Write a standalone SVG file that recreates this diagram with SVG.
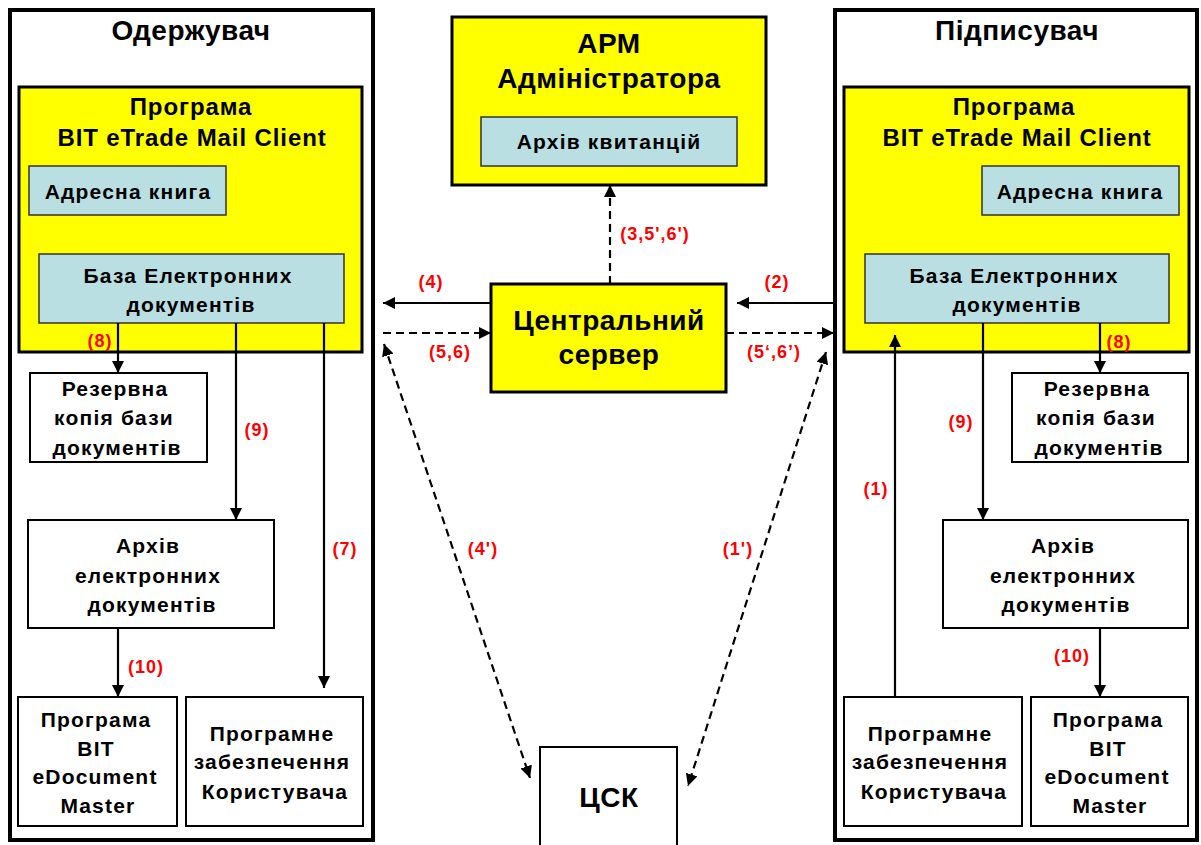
<svg xmlns="http://www.w3.org/2000/svg" width="1201" height="845" viewBox="0 0 1201 845">
<style>
.outer{fill:#fff;stroke:#000;stroke-width:4}
.yel{fill:#ffff00;stroke:#000;stroke-width:3}
.blue{fill:#b9dfe3;stroke:#333;stroke-width:1.5}
.wht{fill:#fff;stroke:#000;stroke-width:2}
text{font-family:"Liberation Sans",Arial,sans-serif;font-weight:bold;text-anchor:middle;fill:#000}
.t28{font-size:28px;letter-spacing:0.5px}
.t22{font-size:24px;letter-spacing:0.9px}
.t20{font-size:21px;letter-spacing:1.2px}
.lbl{font-size:18px;fill:#ff0000;letter-spacing:1px}
.ln{stroke:#000;stroke-width:2.2;fill:none}
.dl{stroke:#000;stroke-width:2.2;fill:none;stroke-dasharray:8,5}
</style>
<defs>
<marker id="ah" viewBox="0 0 10 10" refX="10" refY="5" markerWidth="12" markerHeight="12" markerUnits="userSpaceOnUse" orient="auto-start-reverse">
<path d="M0,0 L10,5 L0,10 z" fill="#000"/>
</marker>
</defs>
<rect width="1201" height="845" fill="#fff"/>

<g id="receiver">
<rect class="outer" x="10" y="10" width="363" height="830"/>
<text class="t28" x="191" y="40">Одержувач</text>
</g>
<g id="receiver-client">
<rect class="yel" x="19" y="87" width="343" height="265"/>
<text class="t22" x="191" y="115">Програма</text>
<text class="t22" x="192" y="146">BIT eTrade Mail Client</text>
</g>
<g id="receiver-address">
<rect class="blue" x="29" y="166" width="197" height="49"/>
<text class="t20" x="128" y="199">Адресна книга</text>
</g>
<g id="receiver-db">
<rect class="blue" x="39" y="254" width="305" height="69"/>
<text class="t20" x="188" y="283">База Електронних</text>
<text class="t20" x="191" y="312">документів</text>
</g>
<g id="receiver-backup">
<rect class="wht" x="30" y="373" width="177" height="89"/>
<text class="t20" x="115" y="396">Резервна</text>
<text class="t20" x="114" y="425">копія бази</text>
<text class="t20" x="117" y="455">документів</text>
</g>
<g id="receiver-archive">
<rect class="wht" x="28" y="520" width="246" height="108"/>
<text class="t20" x="148" y="553">Архів</text>
<text class="t20" x="148" y="583">електронних</text>
<text class="t20" x="152" y="612">документів</text>
</g>
<g id="receiver-edoc">
<rect class="wht" x="18" y="697" width="159" height="129"/>
<text class="t20" x="96" y="727">Програма</text>
<text class="t20" x="96" y="756">BIT</text>
<text class="t20" x="95" y="784">eDocument</text>
<text class="t20" x="98" y="813">Master</text>
</g>
<g id="receiver-user">
<rect class="wht" x="186" y="697" width="177" height="129"/>
<text class="t20" x="272" y="741">Програмне</text>
<text class="t20" x="272" y="769">забезпечення</text>
<text class="t20" x="275" y="799">Користувача</text>
</g>

<g id="signer">
<rect class="outer" x="835" y="10" width="362" height="830"/>
<text class="t28" x="1017" y="40">Підписувач</text>
</g>
<g id="signer-client">
<rect class="yel" x="844" y="87" width="345" height="265"/>
<text class="t22" x="1014" y="115">Програма</text>
<text class="t22" x="1017" y="146">BIT eTrade Mail Client</text>
</g>
<g id="signer-address">
<rect class="blue" x="982" y="166" width="197" height="49"/>
<text class="t20" x="1080" y="199">Адресна книга</text>
</g>
<g id="signer-db">
<rect class="blue" x="865" y="254" width="304" height="69"/>
<text class="t20" x="1014" y="283">База Електронних</text>
<text class="t20" x="1017" y="312">документів</text>
</g>
<g id="signer-backup">
<rect class="wht" x="1012" y="373" width="176" height="89"/>
<text class="t20" x="1097" y="396">Резервна</text>
<text class="t20" x="1096" y="425">копія бази</text>
<text class="t20" x="1099" y="455">документів</text>
</g>
<g id="signer-archive">
<rect class="wht" x="943" y="520" width="245" height="108"/>
<text class="t20" x="1063" y="553">Архів</text>
<text class="t20" x="1063" y="583">електронних</text>
<text class="t20" x="1066" y="612">документів</text>
</g>
<g id="signer-user">
<rect class="wht" x="844" y="697" width="178" height="129"/>
<text class="t20" x="930" y="741">Програмне</text>
<text class="t20" x="930" y="769">забезпечення</text>
<text class="t20" x="934" y="799">Користувача</text>
</g>
<g id="signer-edoc">
<rect class="wht" x="1031" y="697" width="157" height="129"/>
<text class="t20" x="1108" y="727">Програма</text>
<text class="t20" x="1108" y="756">BIT</text>
<text class="t20" x="1107" y="784">eDocument</text>
<text class="t20" x="1110" y="813">Master</text>
</g>

<g id="admin">
<rect class="yel" x="452" y="17" width="314" height="168"/>
<text class="t28" x="609" y="53">АРМ</text>
<text class="t28" x="609" y="88">Адміністратора</text>
</g>
<g id="receipts">
<rect class="blue" x="481" y="117" width="256" height="49"/>
<text class="t20" x="609" y="149">Архів квитанцій</text>
</g>
<g id="server">
<rect class="yel" x="491" y="284" width="235" height="108"/>
<text class="t28" x="609" y="330">Центральний</text>
<text class="t28" x="609" y="364">сервер</text>
</g>
<g id="csk">
<rect class="wht" x="540" y="747" width="137" height="100"/>
<text class="t28" x="609" y="807">ЦСК</text>
</g>

<g id="connectors">
<line class="ln" x1="118" y1="323" x2="118" y2="373" marker-end="url(#ah)"/>
<line class="ln" x1="236" y1="323" x2="236" y2="520" marker-end="url(#ah)"/>
<line class="ln" x1="324" y1="323" x2="324" y2="688" marker-end="url(#ah)"/>
<line class="ln" x1="118" y1="628" x2="118" y2="697" marker-end="url(#ah)"/>
<line class="ln" x1="895" y1="697" x2="895" y2="335" marker-end="url(#ah)"/>
<line class="ln" x1="983" y1="323" x2="983" y2="520" marker-end="url(#ah)"/>
<line class="ln" x1="1100" y1="323" x2="1100" y2="373" marker-end="url(#ah)"/>
<line class="ln" x1="1100" y1="628" x2="1100" y2="697" marker-end="url(#ah)"/>
<line class="ln" x1="491" y1="303" x2="383" y2="303" marker-end="url(#ah)"/>
<line class="ln" x1="833" y1="303" x2="737" y2="303" marker-end="url(#ah)"/>
<line class="dl" x1="383" y1="333" x2="491" y2="333" marker-end="url(#ah)"/>
<line class="dl" x1="726" y1="333" x2="834" y2="333" marker-end="url(#ah)"/>
<line class="dl" x1="610" y1="284" x2="610" y2="185" marker-end="url(#ah)"/>
<line class="dl" x1="384" y1="344" x2="530" y2="778" marker-start="url(#ah)" marker-end="url(#ah)"/>
<line class="dl" x1="826" y1="352" x2="688" y2="786" marker-start="url(#ah)" marker-end="url(#ah)"/>
</g>

<g id="labels">
<text class="lbl" x="100" y="347">(8)</text>
<text class="lbl" x="257" y="436">(9)</text>
<text class="lbl" x="345" y="555">(7)</text>
<text class="lbl" x="146" y="673">(10)</text>
<text class="lbl" x="876" y="495">(1)</text>
<text class="lbl" x="961" y="428">(9)</text>
<text class="lbl" x="1119" y="348">(8)</text>
<text class="lbl" x="1072" y="662">(10)</text>
<text class="lbl" x="431" y="288">(4)</text>
<text class="lbl" x="777" y="288">(2)</text>
<text class="lbl" x="450" y="358">(5,6)</text>
<text class="lbl" x="774" y="358">(5‘,6’)</text>
<text class="lbl" x="655" y="240">(3,5',6')</text>
<text class="lbl" x="483" y="555">(4')</text>
<text class="lbl" x="738" y="555">(1')</text>
</g>
</svg>
